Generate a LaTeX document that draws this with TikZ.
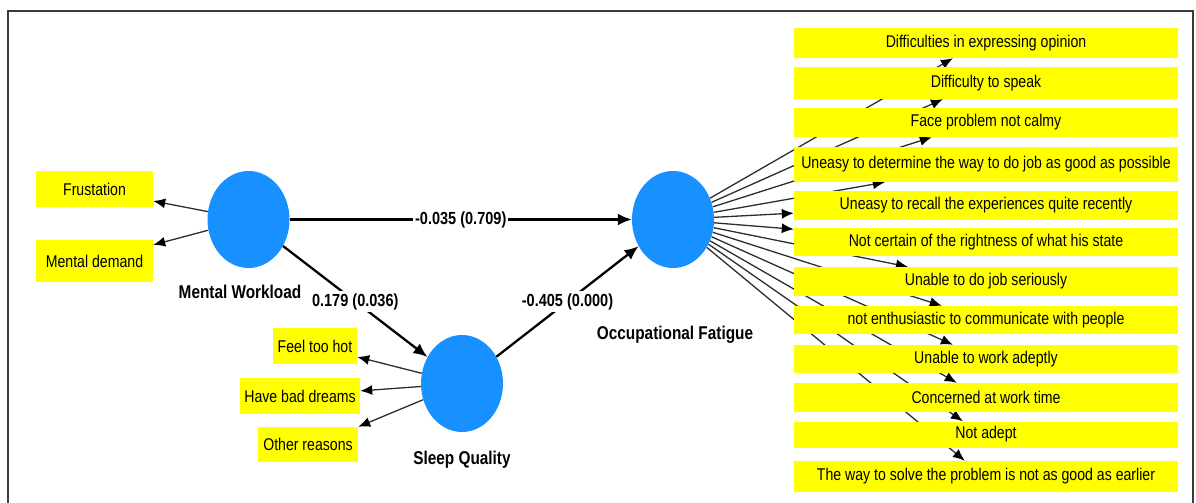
\documentclass[tikz,border=0pt]{standalone}
\usepackage{fontspec}
\setmainfont{Liberation Sans}[FakeStretch=0.83]
\usetikzlibrary{shapes.geometric,arrows.meta,calc,backgrounds}

\definecolor{lvblue}{RGB}{24,144,255}
\definecolor{indyellow}{RGB}{255,255,0}
\definecolor{framegray}{RGB}{60,60,60}
\definecolor{linkgray}{RGB}{45,45,45}

\begin{document}
\begin{tikzpicture}[x=1pt,y=-1pt,
  latent/.style={ellipse, fill=lvblue, minimum width=82pt, minimum height=97pt, inner sep=0pt},
  indbox/.style={fill=indyellow, inner sep=0pt, font=\fontsize{17}{20}\selectfont},
  ofbox/.style={indbox, minimum width=384pt},
  lvname/.style={inner sep=0pt, font=\bfseries\fontsize{18.5}{22}\selectfont},
  coef/.style={fill=white, inner sep=2pt, font=\bfseries\fontsize{17.5}{21}\selectfont},
  structarrow/.style={black, line width=2.3pt, -{Latex[length=14pt,width=12pt]}},
  loading/.style={draw=linkgray, line width=1.3pt, -{Latex[length=12pt,width=10pt,color=black]}},
]
\useasboundingbox (0,0) rectangle (1196,503);

% outer frame
\draw[framegray, line width=1.3pt] (8,503) -- (8,11) -- (1193,11) -- (1193,503);

% latent variables
\node[latent] (mw) at (248.5,219.5) {};
\node[latent] (of) at (673,219.5) {};
\node[latent] (sq) at (462,383.5) {};

\node[lvname] (mwl) at (240,292) {Mental Workload};
\node[lvname] (ofl) at (675,335) {Occupational Fatigue};
\node[lvname] (sql) at (462,460) {Sleep Quality};

% indicators of Mental Workload
\node[indbox, minimum width=117pt, minimum height=36pt] (fr) at (94.5,189) {Frustation};
\node[indbox, minimum width=117pt, minimum height=42pt] (md) at (94.5,261) {Mental demand};

% indicators of Sleep Quality
\node[indbox, minimum width=84pt, minimum height=36pt] (ft) at (315,346) {Feel too hot};
\node[indbox, minimum width=120pt, minimum height=36pt] (hb) at (300,396) {Have bad dreams};
\node[indbox, minimum width=100pt, minimum height=35pt] (or) at (308,444.5) {Other reasons};

% indicators of Occupational Fatigue
\node[ofbox, minimum height=30pt] (i1) at (986,43) {Difficulties in expressing opinion};
\node[ofbox, minimum height=32pt] (i2) at (986,83) {Difficulty to speak};
\node[ofbox, minimum height=29pt] (i3) at (986,122.5) {Face problem not calmy};
\node[ofbox, minimum height=35pt] (i4) at (986,164.5) {Uneasy to determine the way to do job as good as possible};
\node[ofbox, minimum height=29pt] (i5) at (986,205.5) {Uneasy to recall the experiences quite recently};
\node[ofbox, minimum height=28pt] (i6) at (986,242) {Not certain of the rightness of what his state};
\node[ofbox, minimum height=29pt] (i7) at (986,281.5) {Unable to do job seriously};
\node[ofbox, minimum height=28pt] (i8) at (986,320) {not enthusiastic to communicate with people};
\node[ofbox, minimum height=28pt] (i9) at (986,359) {Unable to work adeptly};
\node[ofbox, minimum height=29pt] (i10) at (986,397.5) {Concerned at work time};
\node[ofbox, minimum height=26pt] (i11) at (986,434.5) {Not adept};
\node[ofbox, minimum height=31pt] (i12) at (986,476.5) {The way to solve the problem is not as good as earlier};

% loadings run behind the indicator boxes
\begin{scope}[on background layer]
  \draw[loading] (mw) -- ($(fr.north east)!0.83!(fr.south east)$);
  \draw[loading] (mw) -- ($(md.north east)!0.12!(md.south east)$);

  \draw[loading] (sq) -- ($(ft.north east)!0.8!(ft.south east)$);
  \draw[loading] (sq) -- ($(hb.north east)!0.36!(hb.south east)$);
  \draw[loading] (sq) -- (or.north east);

  \foreach \b/\f in {i1/0.414, i2/0.388, i3/0.359, i4/0.237}
    \draw[loading] (of) -- ($(\b.south west)!\f!(\b.south east)$);
  \draw[loading] (of) -- ($(i5.north west)!0.76!(i5.south west)$);
  \draw[loading] (of) -- ($(i6.north west)!0.05!(i6.south west)$);
  \foreach \b/\f in {i7/0.297, i8/0.385, i9/0.414, i10/0.424, i11/0.44, i12/0.445}
    \draw[loading] (of) -- ($(\b.north west)!\f!(\b.north east)$);
\end{scope}

% structural paths with coefficients (p-values)
\draw[structarrow] (mw) -- node[coef] {-0.035 (0.709)} (of);
\draw[structarrow] (mw) -- node[coef] {0.179 (0.036)} (sq);
\draw[structarrow] (sq) -- node[coef] {-0.405 (0.000)} (of);
\end{tikzpicture}
\end{document}
